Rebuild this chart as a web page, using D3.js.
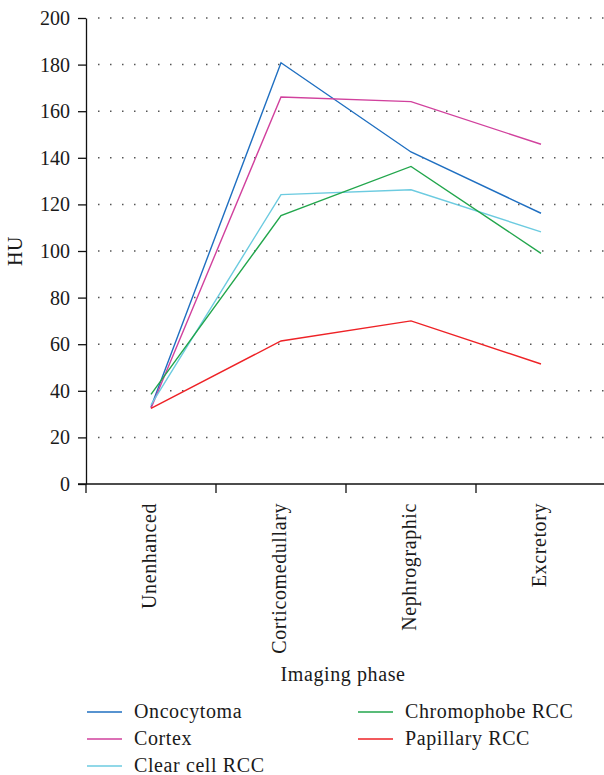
<!DOCTYPE html>
<meta charset="utf-8">
<style>
  body { margin: 0; background: #fff; }
  svg text { font-family: 'Liberation Serif', 'Times New Roman', serif; fill: #1a1a1a; }
</style>
<body>
<script src="https://d3js.org/d3.v7.min.js"></script>
<script>

var phases = ["Unenhanced", "Corticomedullary", "Nephrographic", "Excretory"];
var yTicks = [0, 20, 40, 60, 80, 100, 120, 140, 160, 180, 200];

var oncocytoma  = [33, 180.8, 142.5, 116.2];
var cortex      = [32.5, 166.1, 164.1, 145.8];
var clearCell   = [34, 124.2, 126.3, 108.2];
var chromophobe = [38.5, 115.2, 136.3, 99.0];
var papillary   = [32.5, 61.4, 70.0, 51.5];

var seriesNames = ["Oncocytoma", "Cortex", "Clear cell RCC", "Chromophobe RCC", "Papillary RCC"];
var seriesValues = [oncocytoma, cortex, clearCell, chromophobe, papillary];
var colors = ["#1f6fc1", "#d1419d", "#6ccbe0", "#22a64c", "#ee2226"];

var width = 604, height = 775;
var fontFam = "'Liberation Serif', 'Times New Roman', serif";

var svg = d3.select("body").append("svg")
   .attr("width", width)
   .attr("height", height);

var x = d3.scaleBand().domain(phases).range([86, 606]).padding(0);
var y = d3.scaleLinear().domain([0, 200]).range([484, 18]);

// dotted grid
svg.append("g").selectAll("line")
  .data(yTicks.filter(function(d){ return d > 0; }))
  .enter().append("line")
  .attr("x1", 98).attr("x2", width)
  .attr("y1", function(d){ return y(d); })
  .attr("y2", function(d){ return y(d); })
  .attr("stroke", "#555")
  .attr("stroke-width", 1.5)
  .attr("stroke-dasharray", "1.5 10.5");

// y axis
var yAxis = svg.append("g")
  .attr("transform", "translate(86,0)")
  .call(d3.axisLeft(y).tickValues(yTicks).tickSize(8).tickSizeOuter(0).tickPadding(8));
yAxis.attr("font-family", null).attr("font-size", null);
yAxis.selectAll("text").style("font-size", "20px").style("font-family", fontFam);
yAxis.selectAll("line, path").attr("stroke", "#111").attr("stroke-width", 1.3);

// x axis
var xAxis = svg.append("g")
  .attr("transform", "translate(0,484)")
  .call(d3.axisBottom(x).tickSize(0).tickSizeOuter(0));
xAxis.attr("font-family", null).attr("font-size", null);
xAxis.select("path").attr("stroke", "#111").attr("stroke-width", 1.3)
  .attr("d", "M78,0H" + width);
xAxis.selectAll("text")
  .style("font-size", "20px").style("font-family", fontFam)
  .style("letter-spacing", "0.6px")
  .attr("text-anchor", "end")
  .attr("transform", "rotate(-90)")
  .attr("x", -19).attr("y", 0).attr("dy", "0.25em");

// band boundary ticks
svg.append("g").selectAll("line")
  .data(phases).enter().append("line")
  .attr("x1", function(d){ return x(d); })
  .attr("x2", function(d){ return x(d); })
  .attr("y1", 484).attr("y2", 493)
  .attr("stroke", "#111").attr("stroke-width", 1.3);

// lines
var line = d3.line()
  .x(function(d, i){ return x(phases[i]) + x.bandwidth() / 2; })
  .y(function(d){ return y(d); });

svg.append("g").selectAll("path")
  .data(seriesValues).enter().append("path")
  .attr("d", line)
  .attr("fill", "none")
  .attr("stroke", function(d, i){ return colors[i]; })
  .attr("stroke-width", 1.4);

// axis titles
svg.append("text")
  .attr("transform", "translate(22,251) rotate(-90)")
  .attr("text-anchor", "middle")
  .style("font-size", "20px")
  .style("letter-spacing", "0.6px")
  .text("HU");

svg.append("text")
  .attr("x", 343).attr("y", 681)
  .attr("text-anchor", "middle")
  .style("font-size", "20px")
  .style("letter-spacing", "0.6px")
  .text("Imaging phase");

// legend
var legendPos = [[87, 712], [87, 739], [87, 766], [358, 712], [358, 739]];
var lg = svg.append("g").selectAll("g")
  .data(seriesNames).enter().append("g")
  .attr("transform", function(d, i){ return "translate(" + legendPos[i][0] + "," + legendPos[i][1] + ")"; });

lg.append("line")
  .attr("x1", 0).attr("x2", 35)
  .attr("stroke", function(d, i){ return colors[i]; })
  .attr("stroke-width", 1.4);

lg.append("text")
  .attr("x", 47).attr("dy", "0.32em")
  .style("font-size", "20px")
  .style("letter-spacing", "0.6px")
  .text(function(d){ return d; });

</script>
</body>
